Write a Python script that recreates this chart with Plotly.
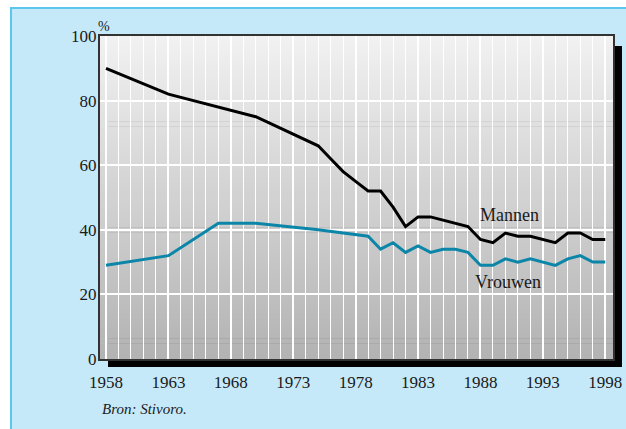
import plotly.graph_objects as go

# Data
men_years = [1958, 1963, 1970, 1975, 1976, 1977, 1978, 1979, 1980, 1981, 1982, 1983, 1984,
             1985, 1986, 1987, 1988, 1989, 1990, 1991, 1992, 1993, 1994, 1995, 1996, 1997, 1998]
men_values = [90, 82, 75, 66, 62, 58, 55, 52, 52, 47, 41, 44, 44,
              43, 42, 41, 37, 36, 39, 38, 38, 37, 36, 39, 39, 37, 37]
women_years = [1958, 1963, 1967, 1970, 1975, 1979, 1980, 1981, 1982, 1983, 1984, 1985, 1986,
               1987, 1988, 1989, 1990, 1991, 1992, 1993, 1994, 1995, 1996, 1997, 1998]
women_values = [29, 32, 42, 42, 40, 38, 34, 36, 33, 35, 33, 34, 34,
                33, 29, 29, 31, 30, 31, 30, 29, 31, 32, 30, 30]
x_ticks = [1958, 1963, 1968, 1973, 1978, 1983, 1988, 1993, 1998]
y_ticks = [0, 20, 40, 60, 80, 100]

FONT = "Liberation Serif"

fig = go.Figure()
fig.add_trace(go.Scatter(x=men_years, y=men_values, mode="lines", name="Mannen",
                         line=dict(color="#000000", width=3), showlegend=False))
fig.add_trace(go.Scatter(x=women_years, y=women_values, mode="lines", name="Vrouwen",
                         line=dict(color="#0b86a8", width=3), showlegend=False))

shapes = []
# blue panel
shapes.append(dict(type="rect", xref="paper", yref="paper", x0=-0.1735, x1=1.2, y0=-0.4, y1=1.0867,
                   fillcolor="#c6e9f9", line=dict(color="#5cc6ee", width=2), layer="below"))
# shadow
shapes.append(dict(type="rect", xref="paper", yref="paper", x0=0.0156, x1=1.0175, y0=-0.0248, y1=0.969,
                   fillcolor="#000000", line=dict(width=0), layer="below"))
# gradient
n = 64
top = (241, 241, 241)
bot = (179, 179, 179)
for i in range(n):
    t = (i + 0.5) / n
    c = tuple(round(bot[k] + (top[k] - bot[k]) * t) for k in range(3))
    shapes.append(dict(type="rect", xref="paper", yref="paper", x0=0, x1=1,
                       y0=i / n, y1=(i + 1) / n + 0.002,
                       fillcolor="rgb(%d,%d,%d)" % c, line=dict(width=0), layer="below"))

fig.update_layout(
    width=626, height=429,
    margin=dict(l=100, r=13, t=36, b=70),
    paper_bgcolor="#ffffff",
    plot_bgcolor="rgba(0,0,0,0)",
    shapes=shapes,
    font=dict(family=FONT, color="#1a1a1a", size=17),
    xaxis=dict(range=[1957.52, 1998.62], tickvals=x_ticks, ticktext=[str(v) for v in x_ticks],
               automargin=False,
               showgrid=True, gridcolor="#ffffff", gridwidth=1.5,
               minor=dict(dtick=1, tick0=1958, showgrid=True, gridcolor="#ffffff", gridwidth=1.2),
               showline=True, mirror=True, linecolor="#333333", linewidth=2,
               ticks="outside", ticklen=7, tickcolor="rgba(0,0,0,0)", zeroline=False,
               tickfont=dict(family=FONT, size=17, color="#1a1a1a")),
    yaxis=dict(range=[0, 100], tickvals=y_ticks, automargin=False,
               showgrid=True, gridcolor="#ffffff", gridwidth=2,
               showline=True, mirror=True, linecolor="#333333", linewidth=2,
               ticks="", ticklabelstandoff=-2, zeroline=False,
               tickfont=dict(family=FONT, size=17, color="#1a1a1a")),
    annotations=[
        dict(text="Mannen", x=1990.3, y=44.6, xref="x", yref="y", showarrow=False,
             xanchor="center", yanchor="middle",
             font=dict(family=FONT, size=18, color="#1a1a1a")),
        dict(text="Vrouwen", x=1990.2, y=23.8, xref="x", yref="y", showarrow=False,
             xanchor="center", yanchor="middle",
             font=dict(family=FONT, size=18, color="#1a1a1a")),
        dict(text="%", x=0.008, y=1.028, xref="paper", yref="paper", showarrow=False,
             xanchor="center", yanchor="middle",
             font=dict(family=FONT, size=14, color="#1a1a1a")),
        dict(text="<i>Bron: Stivoro.</i>", x=0.0, y=-0.155, xref="paper", yref="paper",
             xanchor="left", yanchor="middle", showarrow=False,
             font=dict(family=FONT, size=15, color="#1a1a1a")),
    ],
)

fig.write_html("out.html", config={"displayModeBar": False},
               post_script="document.body.style.margin='0';document.body.style.overflow='hidden';")
